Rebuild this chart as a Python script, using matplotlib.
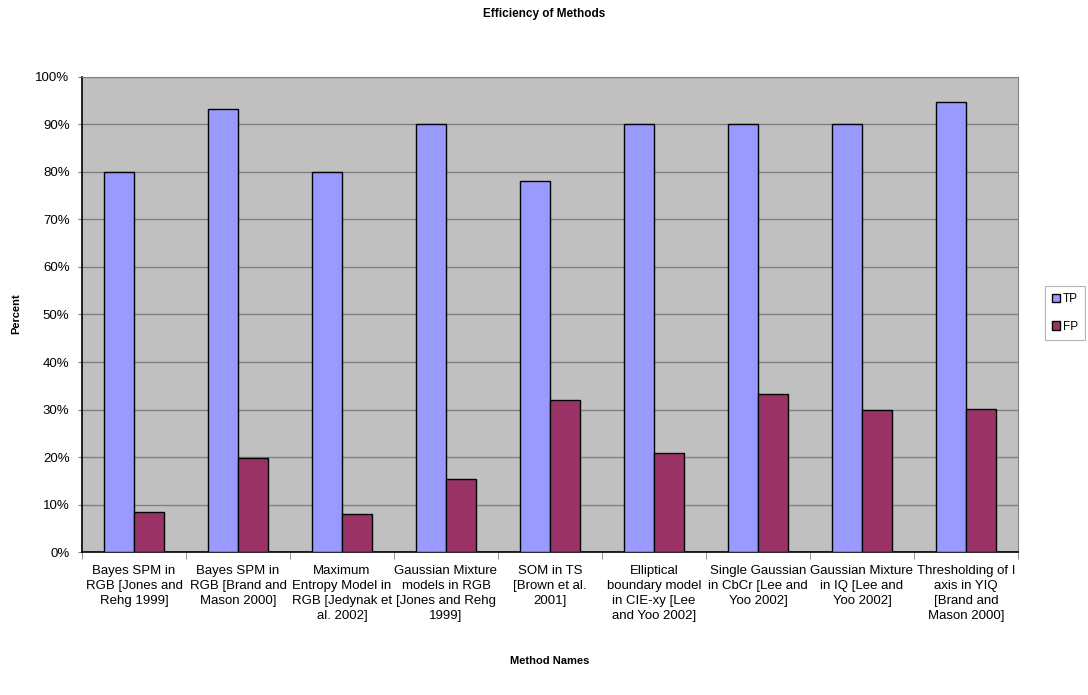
import matplotlib
matplotlib.use("Agg")
import matplotlib.pyplot as plt
import numpy as np
from matplotlib.ticker import FixedLocator, PercentFormatter

plt.rcParams['font.family'] = ['Liberation Sans', 'DejaVu Sans']

categories = [
    "Bayes SPM in\nRGB [Jones and\nRehg 1999]",
    "Bayes SPM in\nRGB [Brand and\nMason 2000]",
    "Maximum\nEntropy Model in\nRGB [Jedynak et\nal. 2002]",
    "Gaussian Mixture\nmodels in RGB\n[Jones and Rehg\n1999]",
    "SOM in TS\n[Brown et al.\n2001]",
    "Elliptical\nboundary model\nin CIE-xy [Lee\nand Yoo 2002]",
    "Single Gaussian\nin CbCr [Lee and\nYoo 2002]",
    "Gaussian Mixture\nin IQ [Lee and\nYoo 2002]",
    "Thresholding of I\naxis in YIQ\n[Brand and\nMason 2000]",
]
tp = [80.0, 93.3, 80.0, 90.0, 78.0, 90.0, 90.0, 90.0, 94.7]
fp = [8.5, 19.8, 8.0, 15.5, 32.0, 20.9, 33.3, 30.0, 30.2]

fig = plt.figure(figsize=(10.88, 6.95), dpi=100)
ax = fig.add_axes([82/1088, 1 - 552.3/695, 936/1088, 475.6/695])
ax.set_facecolor('#c0c0c0')

x = np.arange(len(categories))
w = 0.29
ax.bar(x - w/2, tp, width=w, color='#9999ff', edgecolor='black', linewidth=1, label='TP', zorder=3)
ax.bar(x + w/2, fp, width=w, color='#993366', edgecolor='black', linewidth=1, label='FP', zorder=3)

ax.set_xlim(-0.5, len(categories) - 0.5)
ax.set_ylim(0, 100)
ax.set_yticks(np.arange(0, 101, 10))
ax.yaxis.set_major_formatter(PercentFormatter(decimals=0))
ax.yaxis.grid(True, color='#808080', linewidth=1, zorder=0)
ax.set_axisbelow(True)

ax.set_xticks(x)
ax.set_xticklabels(categories, fontsize=9.5, linespacing=1.33)
ax.tick_params(axis='x', which='major', length=0, pad=9.5)
ax.xaxis.set_minor_locator(FixedLocator(np.arange(-0.5, len(categories), 1.0)))
ax.tick_params(axis='x', which='minor', length=5, direction='out', color='#808080')
ax.tick_params(axis='y', length=3, direction='out', labelsize=9.5, color='#808080', pad=6)

for s in ['top', 'right']:
    ax.spines[s].set_color('#808080')
for s in ['left', 'bottom']:
    ax.spines[s].set_color('black')
    ax.spines[s].set_linewidth(1.2)

fig.text(0.5, 1 - 14/695, 'Efficiency of Methods', ha='center', va='center', fontsize=8.5, fontweight='bold')
fig.text(16/1088, 1 - 314/695, 'Percent', ha='center', va='center', rotation=90, fontsize=8, fontweight='bold')
fig.text(550/1088, 1 - 661/695, 'Method Names', ha='center', va='center', fontsize=8, fontweight='bold')

leg = ax.legend(loc='center left', bbox_to_anchor=(1045/1088, 1 - 313/695), bbox_transform=fig.transFigure,
                frameon=True, fancybox=False, fontsize=8.5, handlelength=0.7, handleheight=0.7,
                handletextpad=0.2, borderpad=0.6, labelspacing=1.3, borderaxespad=0)
leg.get_frame().set_edgecolor('#a0a0a0')
leg.get_frame().set_linewidth(0.8)

fig.savefig('out.png', dpi=100)
